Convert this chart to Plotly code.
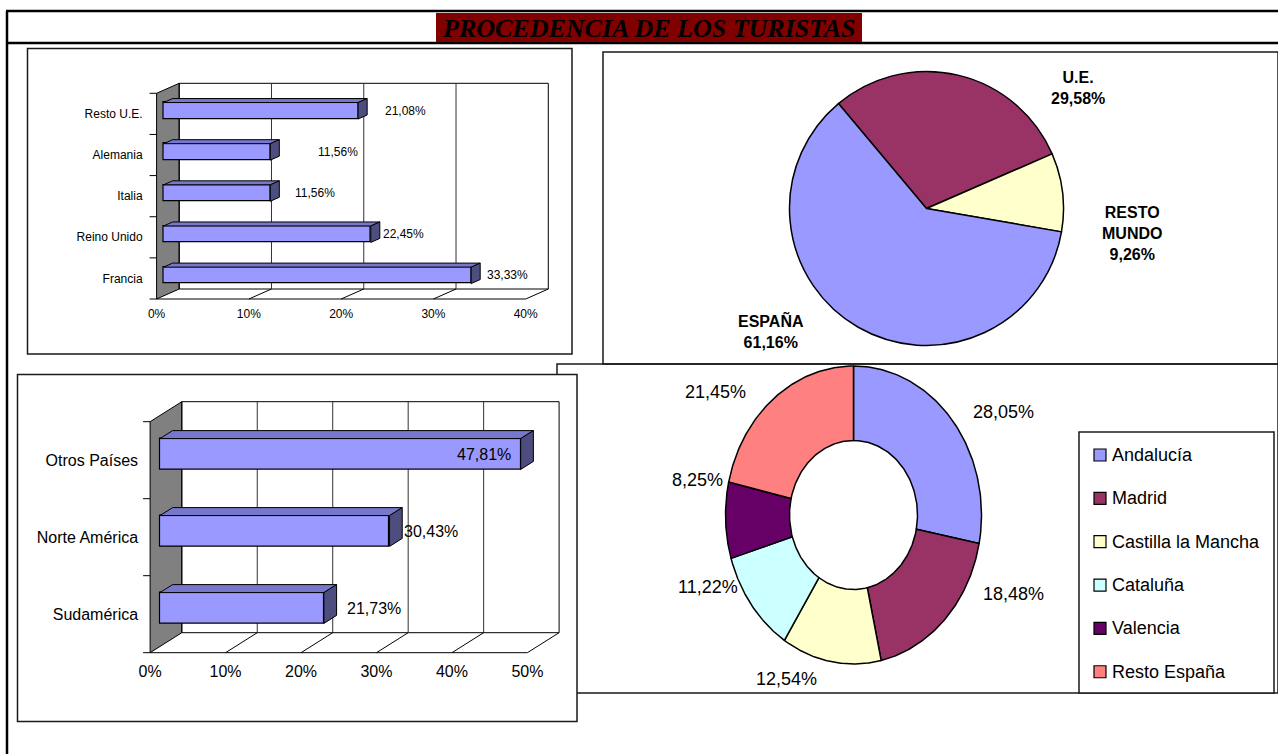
import numpy as np
import plotly.graph_objects as go

# ---------------- data ----------------
title_text = "PROCEDENCIA DE LOS TURISTAS"

ue_cats = ["Francia", "Reino Unido", "Italia", "Alemania", "Resto U.E."]
ue_vals = [33.33, 22.45, 11.56, 11.56, 21.08]
ue_ticks = [0, 10, 20, 30, 40]

rm_cats = ["Sudamérica", "Norte América", "Otros Países"]
rm_vals = [21.73, 30.43, 47.81]
rm_ticks = [0, 10, 20, 30, 40, 50]

pie_labels = ["U.E.", "RESTO MUNDO", "ESPAÑA"]
pie_vals = [29.58, 9.26, 61.16]

es_labels = ["Andalucía", "Madrid", "Castilla la Mancha", "Cataluña", "Valencia", "Resto España"]
es_vals = [28.05, 18.48, 12.54, 11.22, 8.25, 21.45]

# ---------------- style ----------------
W, H = 1278, 754
SANS = "Liberation Sans, Arial, sans-serif"
SERIF = "Liberation Serif, Times New Roman, serif"
BAR_FRONT, BAR_TOP, BAR_SIDE, WALL = "#9999FF", "#7777CC", "#4D4D80", "#808080"
pie_colors = ["#993366", "#FFFFCC", "#9999FF"]
es_colors = ["#9999FF", "#993366", "#FFFFCC", "#CCFFFF", "#660066", "#FF8080"]
BOX = "#1a1a1a"


def fx(p):
    return p / W


def fy(p):
    return 1 - p / H


def pct(v):
    return f"{v:.2f}".replace(".", ",") + "%"


fig = go.Figure()
shapes = []
annotations = []
axes = {}


def rect_px(x0, y0, x1, y1, w=1.5, color=BOX, fill="rgba(0,0,0,0)"):
    shapes.append(dict(type="rect", xref="paper", yref="paper",
                       x0=fx(x0), x1=fx(x1), y0=fy(y1), y1=fy(y0),
                       line=dict(color=color, width=w), fillcolor=fill, layer="below"))


def line_px(x0, y0, x1, y1, w=1.0, color="black"):
    shapes.append(dict(type="line", xref="paper", yref="paper",
                       x0=fx(x0), x1=fx(x1), y0=fy(y0), y1=fy(y1),
                       line=dict(color=color, width=w), layer="below"))


# ---------------- frame & boxes ----------------
line_px(7, 11, 7, 754, w=2.5)
line_px(6, 11, 1278, 11, w=2.5)
line_px(6, 43, 1278, 43, w=2.5)
rect_px(436, 13, 862, 42, w=0, fill="#800000")
annotations.append(dict(x=fx(649), y=fy(28), xref="paper", yref="paper", text=title_text,
                        showarrow=False, xanchor="center", yanchor="middle",
                        font=dict(family=SERIF, size=26, color="black", weight="bold", style="italic")))

rect_px(27.5, 48.5, 572, 354)           # chart 1 box
rect_px(603, 52, 1278, 364)             # pie box
rect_px(557, 364, 1278, 693)            # donut box
rect_px(17.5, 374.5, 577, 721.5, fill="white")  # chart 2 box (on top)
rect_px(1079, 432, 1274, 693, fill="white")     # legend box


# ---------------- 3D bar charts ----------------
F, B, HALF = 0.31, 0.71, 0.2


def bar3d(k, cats, vals, ticks, px0, ppu, dxpx, pyb, upu, dypx, fsize,
          nudges, anchors, ystand, xstand):
    xa, ya = ("x", "y") if k == 1 else (f"x{k}", f"y{k}")
    xl, yl = ("xaxis", "yaxis") if k == 1 else (f"xaxis{k}", f"yaxis{k}")
    n = len(cats)
    dx, dy = dxpx / ppu, dypx / upu
    xm = ticks[-1]
    top = n + dy
    padx, pady = 2 / ppu, 2 / upu
    axes[xl] = dict(domain=[fx(px0 - 2), fx(px0 + (xm + dx) * ppu + 2)],
                    range=[-padx, xm + dx + padx], anchor=ya, automargin=False,
                    showgrid=False, zeroline=False, showline=False, ticks="",
                    tickmode="array", tickvals=ticks, ticktext=[f"{t}%" for t in ticks],
                    tickfont=dict(family=SANS, size=fsize, color="black"),
                    ticklabelstandoff=xstand, fixedrange=True)
    axes[yl] = dict(domain=[fy(pyb + 2), fy(pyb - top * upu - 2)],
                    range=[-pady, top + pady], anchor=xa, automargin=False,
                    showgrid=False, zeroline=False, showline=False, ticks="",
                    tickmode="array", tickvals=[i + 0.5 for i in range(n)], ticktext=cats,
                    tickfont=dict(family=SANS, size=fsize, color="black"),
                    ticklabelstandoff=ystand, fixedrange=True)

    def dl(x0, y0, x1, y1, color="black", w=1.0):
        shapes.append(dict(type="line", xref=xa, yref=ya, x0=x0, y0=y0, x1=x1, y1=y1,
                           line=dict(color=color, width=w), layer="below"))

    # left wall
    shapes.append(dict(type="path", xref=xa, yref=ya,
                       path=f"M0,0 L{dx},{dy} L{dx},{top} L0,{n} Z",
                       fillcolor=WALL, line=dict(color="black", width=1), layer="below"))
    # back wall frame + gridlines
    shapes.append(dict(type="rect", xref=xa, yref=ya, x0=dx, y0=dy, x1=xm + dx, y1=top,
                       line=dict(color="black", width=1), fillcolor="rgba(0,0,0,0)", layer="below"))
    for t in ticks[1:-1]:
        dl(t + dx, dy, t + dx, top, color="#333333")
    # floor
    dl(0, 0, xm, 0)
    for t in ticks[1:]:
        dl(t, 0, t + dx, dy)
    # category tick marks on wall front edge
    for j in range(n + 1):
        line_px(px0 - 7, pyb - j * upu, px0, pyb - j * upu)

    ys = [i + 0.5 + F * dy for i in range(n)]
    fig.add_trace(go.Bar(x=vals, y=ys, base=F * dx, orientation="h", width=2 * HALF,
                         marker=dict(color=BAR_FRONT, line=dict(color="black", width=1.2)),
                         xaxis=xa, yaxis=ya, showlegend=False, hoverinfo="skip"))
    d = B - F
    tx, ty, sx, sy = [], [], [], []
    for v, y in zip(vals, ys):
        x0, x1, yt, yb = F * dx, v + F * dx, y + HALF, y - HALF
        tx += [x0, x1, x1 + d * dx, x0 + d * dx, x0, None]
        ty += [yt, yt, yt + d * dy, yt + d * dy, yt, None]
        sx += [x1, x1, x1 + d * dx, x1 + d * dx, x1, None]
        sy += [yb, yt, yt + d * dy, yb + d * dy, yb, None]
    fig.add_trace(go.Scatter(x=tx, y=ty, mode="lines", fill="toself", fillcolor=BAR_TOP,
                             line=dict(color="black", width=1), xaxis=xa, yaxis=ya,
                             showlegend=False, hoverinfo="skip"))
    fig.add_trace(go.Scatter(x=sx, y=sy, mode="lines", fill="toself", fillcolor=BAR_SIDE,
                             line=dict(color="black", width=1), xaxis=xa, yaxis=ya,
                             showlegend=False, hoverinfo="skip"))
    for v, y, nd, an in zip(vals, ys, nudges, anchors):
        annotations.append(dict(x=v + nd, y=y, xref=xa, yref=ya, text=pct(v), showarrow=False,
                                xanchor=an, yanchor="middle",
                                font=dict(family=SANS, size=fsize, color="black")))


bar3d(1, ue_cats, ue_vals, ue_ticks, px0=156.6, ppu=9.2275, dxpx=22.6, pyb=299, upu=41.14,
      dypx=10, fsize=12, nudges=[2.26, 1.87, 3.22, 5.71, 3.46], anchors=["left"] * 5,
      ystand=11, xstand=4)
bar3d(2, rm_cats, rm_vals, rm_ticks, px0=150.1, ppu=7.546, dxpx=31.7, pyb=652.7, upu=77,
      dypx=20, fsize=16, nudges=[4.05, 3.0, 0.28], anchors=["left", "left", "right"],
      ystand=9, xstand=5)

# ---------------- pie ----------------
pcx, pcy, pr = 926.5, 208.5, 137
fig.add_trace(go.Pie(values=pie_vals, labels=pie_labels, sort=False, direction="clockwise",
                     rotation=-40, textinfo="none", hoverinfo="skip", showlegend=False,
                     automargin=False,
                     marker=dict(colors=pie_colors, line=dict(color="black", width=1.5)),
                     domain=dict(x=[fx(pcx - pr), fx(pcx + pr)], y=[fy(pcy + pr), fy(pcy - pr)])))
pie_lbl_pos = [(1078, 88), (1132, 233), (771, 331)]
for lab, v, (lx, ly) in zip(pie_labels, pie_vals, pie_lbl_pos):
    annotations.append(dict(x=fx(lx), y=fy(ly), xref="paper", yref="paper",
                            text=lab.replace(" ", "<br>") + "<br>" + pct(v), showarrow=False,
                            xanchor="center", yanchor="middle",
                            font=dict(family=SANS, size=16, color="black", weight="bold")))

# ---------------- donut (elliptical) ----------------
dcx, dcy, drx, dry, hole = 853.5, 515, 128, 149, 0.5
pad = 1.02
axes["xaxis3"] = dict(domain=[fx(dcx - pad * drx), fx(dcx + pad * drx)], range=[-pad, pad],
                      visible=False, anchor="y3", fixedrange=True, automargin=False)
axes["yaxis3"] = dict(domain=[fy(dcy + pad * dry), fy(dcy - pad * dry)], range=[-pad, pad],
                      visible=False, anchor="x3", fixedrange=True, automargin=False)
tot = float(sum(es_vals))
edges = np.concatenate([[0.0], np.cumsum(es_vals)]) / tot * 2 * np.pi
for i, (lab, col) in enumerate(zip(es_labels, es_colors)):
    t = np.linspace(edges[i], edges[i + 1], 90)
    xs = np.concatenate([np.sin(t), hole * np.sin(t[::-1]), [np.sin(t[0])]])
    ys = np.concatenate([np.cos(t), hole * np.cos(t[::-1]), [np.cos(t[0])]])
    fig.add_trace(go.Scatter(x=xs, y=ys, mode="lines", fill="toself", fillcolor=col,
                             line=dict(color="black", width=1.5), xaxis="x3", yaxis="y3",
                             name=lab, showlegend=False, hoverinfo="skip"))
es_lbl_pos = [(1003, 412), (1013, 594), (786, 679), (708, 587), (697, 480), (715, 392)]
for v, (lx, ly) in zip(es_vals, es_lbl_pos):
    annotations.append(dict(x=fx(lx), y=fy(ly), xref="paper", yref="paper", text=pct(v),
                            showarrow=False, xanchor="center", yanchor="middle",
                            font=dict(family=SANS, size=18, color="black")))

# legend (drawn as squares + text)
for i, (lab, col) in enumerate(zip(es_labels, es_colors)):
    yc = 455 + i * 43.35
    shapes.append(dict(type="rect", xref="paper", yref="paper", x0=fx(1094), x1=fx(1106),
                       y0=fy(yc + 6), y1=fy(yc - 6), fillcolor=col,
                       line=dict(color="black", width=1.2), layer="above"))
    annotations.append(dict(x=fx(1110), y=fy(yc), xref="paper", yref="paper", text=lab,
                            showarrow=False, xanchor="left", yanchor="middle",
                            font=dict(family=SANS, size=18, color="black")))

fig.update_layout(width=W, height=H, autosize=False,
                  margin=dict(l=0, r=0, t=0, b=0, pad=0, autoexpand=False),
                  paper_bgcolor="white", plot_bgcolor="rgba(0,0,0,0)",
                  showlegend=False, bargap=0, shapes=shapes, annotations=annotations,
                  hovermode=False, **axes)

fig.write_html("out.html", config={"displayModeBar": False},
               post_script="document.body.style.margin='0';document.body.style.overflow='hidden';")
